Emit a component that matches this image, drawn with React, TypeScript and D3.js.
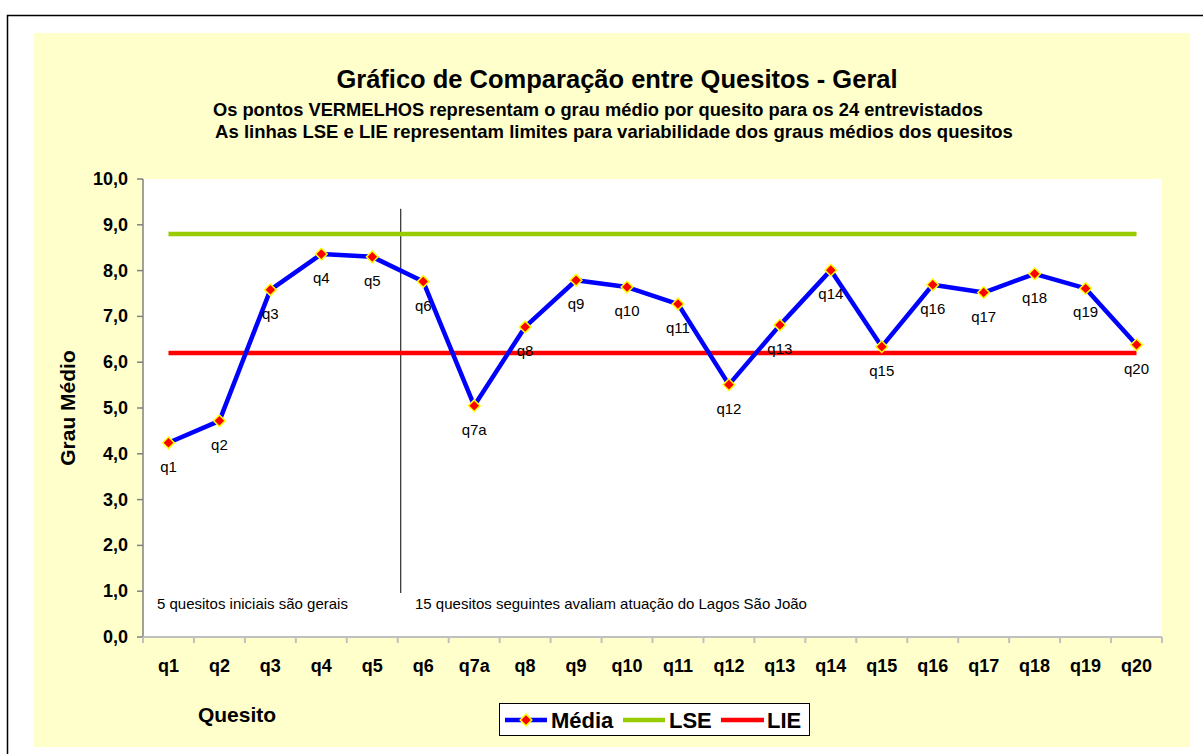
import React from "react";
import * as d3 from "d3";

// dados
const quesitos = ["q1", "q2", "q3", "q4", "q5", "q6", "q7a", "q8", "q9", "q10", "q11", "q12", "q13", "q14", "q15", "q16", "q17", "q18", "q19", "q20"];
const media = [4.24, 4.72, 7.58, 8.36, 8.3, 7.76, 5.05, 6.77, 7.79, 7.64, 7.27, 5.51, 6.81, 8.01, 6.34, 7.69, 7.52, 7.93, 7.61, 6.38];
const lse = 8.8;
const lie = 6.2;
const yTicks = [0, 1, 2, 3, 4, 5, 6, 7, 8, 9, 10];

const W = 1203, H = 754;
const plot = { left: 143, right: 1162, top: 179, bottom: 637 };

const ptBR = d3.formatLocale({ decimal: ",", thousands: ".", grouping: [3], currency: ["R$", ""] });
const fmt = ptBR.format(".1f");

const x = d3.scaleBand<string>().domain(quesitos).range([plot.left, plot.right]).padding(0);
const y = d3.scaleLinear().domain([0, 10]).range([plot.bottom, plot.top]);
const cx = (q: string) => (x(q) as number) + x.bandwidth() / 2;

export default function App() {
  const first = cx(quesitos[0]);
  const last = cx(quesitos[quesitos.length - 1]);
  const line = d3.line<number>().x((_, i) => cx(quesitos[i])).y((d) => y(d));
  const diamond = d3.symbol().type(d3.symbolSquare).size(68)();
  // linha divisoria entre q5 e q6
  const divX = x("q6")! + 3;

  return (
    <svg width={W} height={H} style={{ position: "absolute", left: 0, top: 0, fontFamily: "Arial, 'Liberation Sans', sans-serif" }}>
      <rect x={0} y={0} width={W} height={H} fill="#fff" />
      <rect x={7.5} y={15.5} width={W} height={H} fill="none" stroke="#000" strokeWidth={1.5} />
      <rect x={34} y={33} width={1156} height={714} fill="#FFFFCC" />
      <rect x={plot.left} y={plot.top} width={plot.right - plot.left} height={plot.bottom - plot.top} fill="#fff" />

      {/* titulos */}
      <text x={617} y={88} textAnchor="middle" fontWeight="bold" fontSize={25.5}>Gráfico de Comparação entre Quesitos - Geral</text>
      <text x={598} y={116} textAnchor="middle" fontWeight="bold" fontSize={18.3}>Os pontos VERMELHOS representam o grau médio por quesito para os 24 entrevistados</text>
      <text x={614} y={138} textAnchor="middle" fontWeight="bold" fontSize={18.5}>As linhas LSE e LIE representam limites para variabilidade dos graus médios dos quesitos</text>

      {/* eixo y */}
      <line x1={plot.left} x2={plot.left} y1={plot.top} y2={plot.bottom} stroke="#808080" strokeWidth={1.5} />
      {yTicks.map((t) => (
        <g key={t}>
          <line x1={plot.left - 6} x2={plot.left} y1={y(t)} y2={y(t)} stroke="#808080" strokeWidth={1.5} />
          <text x={128} y={y(t) + 6} textAnchor="end" fontWeight="bold" fontSize={18}>{fmt(t)}</text>
        </g>
      ))}
      <text transform={`translate(75,408) rotate(-90)`} textAnchor="middle" fontWeight="bold" fontSize={21}>Grau Médio</text>

      {/* eixo x */}
      <line x1={plot.left} x2={plot.right} y1={plot.bottom} y2={plot.bottom} stroke="#c0c0c0" strokeWidth={2} />
      {quesitos.map((q) => (
        <line key={"t" + q} x1={x(q)!} x2={x(q)!} y1={plot.bottom} y2={plot.bottom + 6} stroke="#c0c0c0" strokeWidth={2} />
      ))}
      <line x1={plot.right} x2={plot.right} y1={plot.bottom} y2={plot.bottom + 6} stroke="#c0c0c0" strokeWidth={2} />
      {quesitos.map((q) => (
        <text key={"l" + q} x={cx(q)} y={672} textAnchor="middle" fontWeight="bold" fontSize={18}>{q}</text>
      ))}
      <text x={237} y={722} textAnchor="middle" fontWeight="bold" fontSize={21}>Quesito</text>

      {/* anotacoes */}
      <line x1={divX} x2={divX} y1={y(9.35)} y2={y(0.96)} stroke="#000" strokeWidth={1} />
      <text x={157} y={609} fontSize={15}>5 quesitos iniciais são gerais</text>
      <text x={415} y={609} fontSize={15}>15 quesitos seguintes avaliam atuação do Lagos São João</text>

      {/* limites */}
      <line x1={first} x2={last} y1={y(lse)} y2={y(lse)} stroke="#99CC00" strokeWidth={4.5} />
      <line x1={first} x2={last} y1={y(lie)} y2={y(lie)} stroke="#FF0000" strokeWidth={4.5} />

      {/* serie media */}
      <path d={line(media) ?? ""} fill="none" stroke="#0000FF" strokeWidth={4.5} strokeLinejoin="round" />
      {media.map((v, i) => (
        <path key={"m" + i} d={diamond ?? ""} transform={`translate(${cx(quesitos[i])},${y(v)}) rotate(45)`} fill="#FF0000" stroke="#FFFF00" strokeWidth={1.5} />
      ))}
      {media.map((v, i) => (
        <text key={"d" + i} x={cx(quesitos[i])} y={y(v) + 29} textAnchor="middle" fontSize={15}>{quesitos[i]}</text>
      ))}

      {/* legenda */}
      <rect x={499.5} y={703.5} width={310} height={32} fill="#fff" stroke="#000" strokeWidth={1} />
      <line x1={505} x2={547} y1={720} y2={720} stroke="#0000FF" strokeWidth={4.5} />
      <path d={diamond ?? ""} transform="translate(526,720) rotate(45)" fill="#FF0000" stroke="#FFFF00" strokeWidth={1.5} />
      <text x={551} y={728} fontWeight="bold" fontSize={22}>Média</text>
      <line x1={623} x2={665} y1={720} y2={720} stroke="#99CC00" strokeWidth={4.5} />
      <text x={669} y={728} fontWeight="bold" fontSize={22}>LSE</text>
      <line x1={721} x2={764} y1={720} y2={720} stroke="#FF0000" strokeWidth={4.5} />
      <text x={767} y={728} fontWeight="bold" fontSize={22}>LIE</text>
    </svg>
  );
}
